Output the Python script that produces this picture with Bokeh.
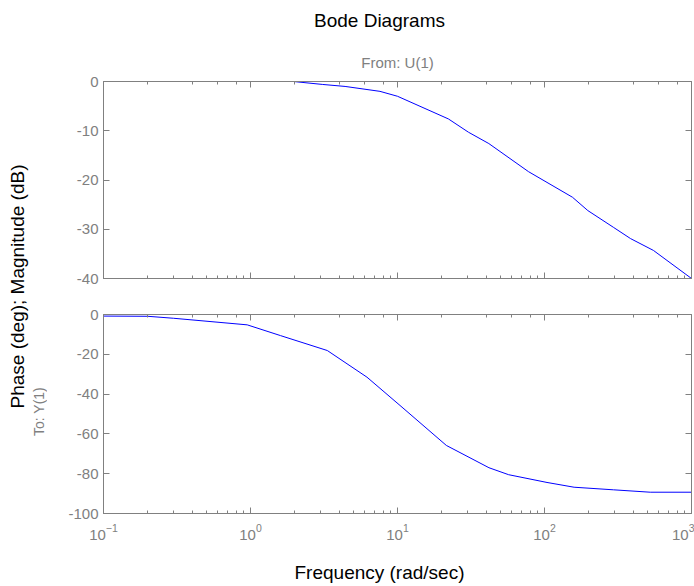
from bokeh.plotting import figure
from bokeh.models import (Range1d, LogAxis, LinearAxis, SingleIntervalTicker, LogTicker, Label,
                          CustomJSTickFormatter)
from bokeh.layouts import row, column
from bokeh.embed import file_html
from bokeh.resources import INLINE

# ---- data ----
freq_mag = [0.1, 1.0, 1.96, 3.1, 4.4, 7.6, 10, 22.2, 30.4, 41.8, 77.8, 155, 197, 294, 385, 551, 1000]
mag_db = [0, 0, 0, -0.6, -1.0, -2.0, -3.0, -7.6, -10.3, -12.6, -18.3, -23.5, -26.2, -29.6, -31.9, -34.3, -40]

freq_ph = [0.1, 0.2, 0.3, 0.95, 1.6, 3.33, 6.2, 10.4, 21.5, 41.9, 57, 104, 159, 295, 524, 1000]
phase_deg = [-0.8, -0.9, -1.9, -5.2, -10.6, -18.1, -31.5, -45.7, -65.8, -77.0, -80.5, -84.4, -86.8, -88.1, -89.3, -89.3]

x_limits = (0.1, 1000)
mag_limits = (-40, 0)
phase_limits = (-100, 0)
mag_step = 10
phase_step = 20

title_text = "Bode Diagrams"
input_text = "From: U(1)"
output_text = "To: Y(1)"
xlabel_text = "Frequency (rad/sec)"
ylabel_text = "Phase (deg); Magnitude (dB)"

GRAY = "#808080"
FONT = "Liberation Sans"
LAB_W = 47
PLOT_W = 694 - LAB_W
FRAME_L, FRAME_R = 103, 691   # page pixels of the plot frames (strips share them)


def style_axis(ax, labels=True):
    ax.axis_line_color = GRAY
    ax.major_tick_line_color = GRAY
    ax.minor_tick_line_color = GRAY
    ax.major_tick_in = 6
    ax.major_tick_out = 0
    ax.minor_tick_in = 3
    ax.minor_tick_out = 0
    ax.major_label_text_color = GRAY
    ax.major_label_text_font = FONT
    ax.major_label_text_font_size = "15px"
    ax.major_label_standoff = 5
    if not labels:
        ax.major_label_text_font_size = "1px"
        ax.major_label_text_alpha = 0
        ax.major_label_standoff = 0


def make_panel(y_lim, step, height, top_border, bottom_border, x_range=None, x_labels=False):
    p = figure(x_axis_type="log",
               x_range=x_range if x_range is not None else Range1d(*x_limits),
               y_range=Range1d(*y_lim), width=PLOT_W, height=height,
               min_border_left=FRAME_L - LAB_W, min_border_right=PLOT_W - (FRAME_R - LAB_W),
               min_border_top=top_border, min_border_bottom=bottom_border,
               output_backend="svg", toolbar_location=None)
    p.xgrid.visible = False
    p.ygrid.visible = False
    p.outline_line_color = None
    p.yaxis.ticker = SingleIntervalTicker(interval=step, num_minor_ticks=0)
    p.yaxis.formatter = CustomJSTickFormatter(code="return tick.toFixed(0)")
    for ax in p.yaxis:
        style_axis(ax, True)
    for ax in p.xaxis:
        style_axis(ax, x_labels)
        if x_labels:
            ax.major_label_standoff = 10
    ax_top = LogAxis(ticker=LogTicker())
    style_axis(ax_top, False)
    p.add_layout(ax_top, "above")
    ax_right = LinearAxis(ticker=SingleIntervalTicker(interval=step, num_minor_ticks=0))
    style_axis(ax_right, False)
    p.add_layout(ax_right, "right")
    return p


def text_strip(width, height, x_lo, x_hi, y0):
    """A blank strip; its ranges are page pixel coordinates (y downward)."""
    f = figure(width=width, height=height, x_range=Range1d(x_lo, x_hi),
               y_range=Range1d(y0 + height, y0), min_border=0,
               min_border_left=0, min_border_right=0, min_border_top=0, min_border_bottom=0,
               x_axis_location=None, y_axis_location=None,
               output_backend="svg", toolbar_location=None)
    f.xgrid.visible = False
    f.ygrid.visible = False
    f.outline_line_color = None
    return f


HEADER_H = 72
FOOTER_H = 33

# header strip with title and input name (its frame is aligned with the plot frames)
header = text_strip(PLOT_W, HEADER_H, FRAME_L, FRAME_R, 0)
header.add_layout(Label(x=379, y=20, text=title_text, text_align="center", text_baseline="middle",
                        text_font=FONT, text_font_size="19px", text_color="black"))
header.add_layout(Label(x=397, y=62, text=input_text, text_align="center", text_baseline="middle",
                        text_font=FONT, text_font_size="15px", text_color=GRAY))

top = make_panel(mag_limits, mag_step, 296 - HEADER_H, 81 - HEADER_H, 18)
top.line(freq_mag, mag_db, line_color="#0000FF", line_width=1)

bottom = make_panel(phase_limits, phase_step, 586 - 296 - FOOTER_H, 18, 586 - FOOTER_H - 513,
                    x_range=top.x_range, x_labels=True)
bottom.line(freq_ph, phase_deg, line_color="#0000FF", line_width=1)

footer = text_strip(PLOT_W, FOOTER_H, FRAME_L, FRAME_R, 586 - FOOTER_H)
footer.add_layout(Label(x=379, y=572, text=xlabel_text, text_align="center", text_baseline="middle",
                        text_font=FONT, text_font_size="19px", text_color="black"))

lab = text_strip(LAB_W, 586, 0, LAB_W, 0)
lab.add_layout(Label(x=17, y=286, text=ylabel_text, angle=90, angle_units="deg", text_align="center",
                     text_baseline="middle", text_font=FONT, text_font_size="19px", text_color="black"))
lab.add_layout(Label(x=38, y=411, text=output_text, angle=90, angle_units="deg", text_align="center",
                     text_baseline="middle", text_font=FONT, text_font_size="14px", text_color=GRAY))

layout = row(lab, column(header, top, bottom, footer))
open("out.html", "w").write(file_html(layout, INLINE))
